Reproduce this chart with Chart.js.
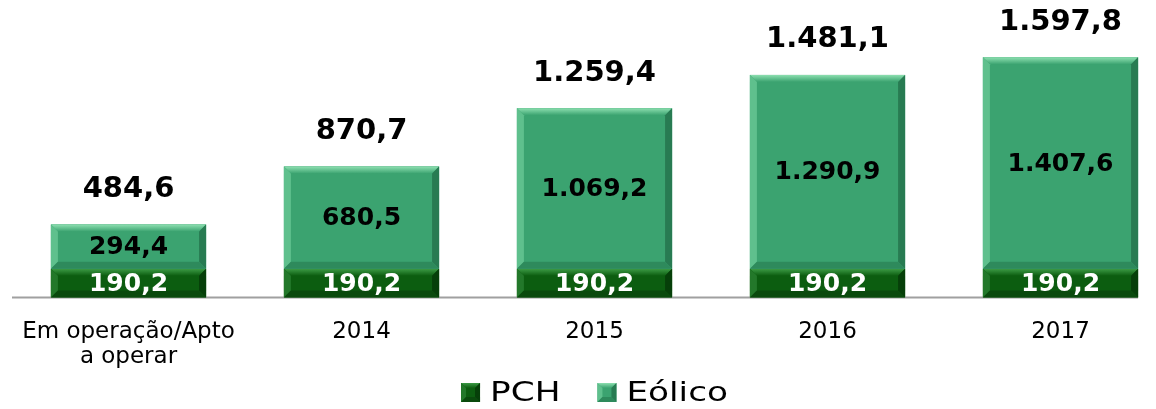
<!DOCTYPE html>
<html>
<head>
<meta charset="utf-8">
<script src="https://cdn.jsdelivr.net/npm/chart.js@4"></script>
<style>
  body { margin: 0; overflow: hidden; background: #fff; }
  #wrap { width: 1189px; height: 409px; }
</style>
</head>
<body>
<div id="wrap"><canvas id="myChart"></canvas></div>
<script>
// data
var categories = [["Em operação/Apto", "a operar"], "2014", "2015", "2016", "2017"];
var pchValues = [190.2, 190.2, 190.2, 190.2, 190.2];
var eolicoValues = [294.4, 680.5, 1069.2, 1290.9, 1407.6];
var totalValues = [484.6, 870.7, 1259.4, 1481.1, 1597.8];
var seriesNames = ["PCH", "Eólico"];

// colours: face, top, left, right, bottom
var pchColors = ["#0c5d10", "#3c9a45", "#23782a", "#063f09", "#0a4a0d"];
var eolColors = ["#3ba370", "#8ddfb0", "#5fc08d", "#287b52", "#2e8a5c"];

// brazilian number format, e.g. 1.597,8
function fmt(v) {
  var s = v.toFixed(1).split(".");
  var intPart = s[0].replace(/\B(?=(\d{3})+(?!\d))/g, ".");
  return intPart + "," + s[1];
}

// bevelled rectangle like the office chart style
function bevel(ctx, l, t, r, b, c, size) {
  var s = Math.min(size, (b - t) / 2, (r - l) / 2);
  ctx.save();
  ctx.fillStyle = c[0];
  ctx.fillRect(l, t, r - l, b - t);
  function poly(pts, col) {
    ctx.beginPath();
    ctx.moveTo(pts[0][0], pts[0][1]);
    for (var i = 1; i < pts.length; i++) ctx.lineTo(pts[i][0], pts[i][1]);
    ctx.closePath();
    ctx.fillStyle = col;
    ctx.fill();
  }
  var g = ctx.createLinearGradient(0, t, 0, t + s);
  g.addColorStop(0, c[1]);
  g.addColorStop(1, c[0]);
  poly([[l, t], [r, t], [r - s, t + s], [l + s, t + s]], g);
  poly([[l, t], [l + s, t + s], [l + s, b - s], [l, b]], c[2]);
  poly([[r, t], [r, b], [r - s, b - s], [r - s, t + s]], c[3]);
  poly([[l, b], [r, b], [r - s, b - s], [l + s, b - s]], c[4]);
  ctx.restore();
}

var barLabels = {
  id: "barLabels",
  afterDatasetsDraw: function(chart) {
    var ctx = chart.ctx;
    var area = chart.chartArea;
    var metas = [chart.getDatasetMeta(0), chart.getDatasetMeta(1)];
    var cols = [pchColors, eolColors];

    // axis line, running to the end of the last bar
    var last = metas[0].data[metas[0].data.length - 1];
    var yZero = chart.scales.y.getPixelForValue(0);
    ctx.save();
    ctx.strokeStyle = "#a0a0a0";
    ctx.lineWidth = 2;
    ctx.beginPath();
    ctx.moveTo(area.left, yZero);
    ctx.lineTo(last.x + last.width / 2, yZero);
    ctx.stroke();
    ctx.restore();

    metas.forEach(function(meta, d) {
      meta.data.forEach(function(bar) {
        var l = bar.x - bar.width / 2, r = bar.x + bar.width / 2;
        bevel(ctx, l, Math.min(bar.y, bar.base), r, Math.max(bar.y, bar.base), cols[d], 7);
      });
    });

    ctx.save();
    ctx.textAlign = "center";
    ctx.textBaseline = "middle";
    ctx.font = "bold 25px 'DejaVu Sans'";
    metas.forEach(function(meta, d) {
      var vals = d === 0 ? pchValues : eolicoValues;
      ctx.fillStyle = d === 0 ? "#ffffff" : "#000000";
      meta.data.forEach(function(bar, i) {
        ctx.fillText(fmt(vals[i]), bar.x, (bar.y + bar.base) / 2 + 1);
      });
    });
    ctx.font = "bold 29px 'DejaVu Sans'";
    ctx.fillStyle = "#000000";
    metas[1].data.forEach(function(bar, i) {
      ctx.fillText(fmt(totalValues[i]), bar.x, bar.y - 35);
    });
    ctx.restore();
  },
  // legend drawn by hand so it can sit at the very bottom
  afterDraw: function(chart) {
    var ctx = chart.ctx;
    var cols = [pchColors, eolColors];
    var box = 19, gap = 10, itemGap = 37, sx = 1.27;
    ctx.save();
    ctx.font = "27px 'DejaVu Sans'";
    var widths = seriesNames.map(function(n) { return ctx.measureText(n).width * sx; });
    var total = 0;
    widths.forEach(function(w, i) { total += box + gap + w + (i > 0 ? itemGap : 0); });
    var x = chart.width / 2 - total / 2;
    var yc = chart.height - 16.5;
    ctx.textBaseline = "middle";
    ctx.textAlign = "left";
    ctx.fillStyle = "#000";
    seriesNames.forEach(function(n, i) {
      bevel(ctx, x, yc - box / 2, x + box, yc + box / 2, cols[i], 5);
      x += box + gap;
      ctx.save();
      ctx.translate(x, yc + 1);
      ctx.scale(sx, 1);
      ctx.fillText(n, 0, 0);
      ctx.restore();
      x += widths[i] + itemGap;
    });
    ctx.restore();
  }
};

var ctx = document.getElementById("myChart");

var myChart = new Chart(ctx, {
  type: "bar",
  data: {
    labels: categories,
    datasets: [{
      label: seriesNames[0],
      data: pchValues,
      backgroundColor: pchColors[0],
      barPercentage: 0.666,
      categoryPercentage: 1
    }, {
      label: seriesNames[1],
      data: eolicoValues,
      backgroundColor: eolColors[0],
      barPercentage: 0.666,
      categoryPercentage: 1
    }]
  },
  options: {
    responsive: true,
    maintainAspectRatio: false,
    animation: false,
    layout: { padding: { left: 12, right: 12, top: 27, bottom: 25 } },
    plugins: {
      tooltip: { enabled: false },
      legend: { display: false }
    },
    scales: {
      x: {
        stacked: true,
        grid: { display: false },
        border: { display: false },
        ticks: { color: "#000", font: { family: "'DejaVu Sans'", size: 23, lineHeight: 1.1 }, padding: 14 }
      },
      y: {
        stacked: true,
        display: false,
        min: 0,
        max: 1800
      }
    }
  },
  plugins: [barLabels]
});
</script>
</body>
</html>
